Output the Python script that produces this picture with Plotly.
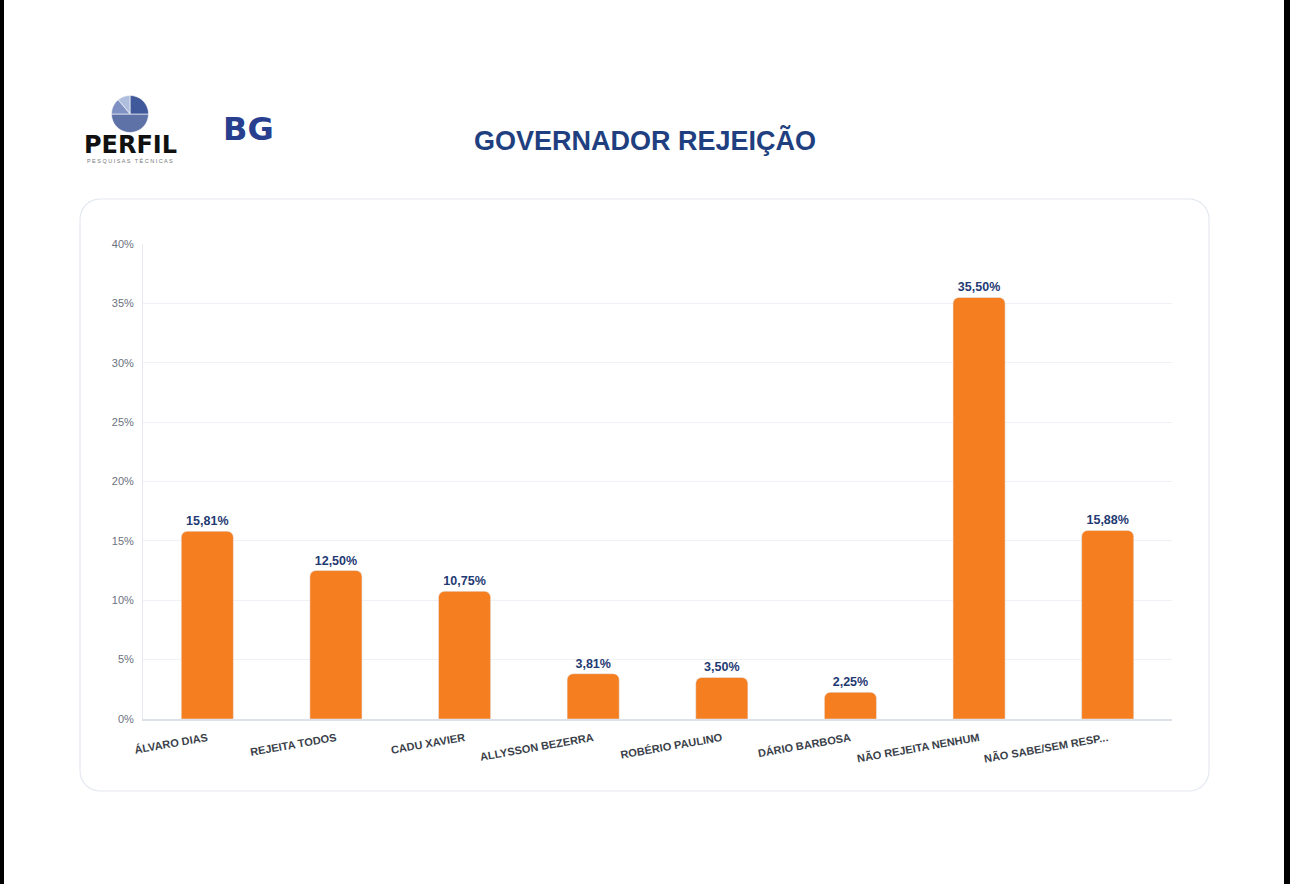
import math
import plotly.graph_objects as go

categories = ["ÁLVARO DIAS", "REJEITA TODOS", "CADU XAVIER", "ALLYSSON BEZERRA",
              "ROBÉRIO PAULINO", "DÁRIO BARBOSA", "NÃO REJEITA NENHUM", "NÃO SABE/SEM RESP..."]
values = [15.81, 12.50, 10.75, 3.81, 3.50, 2.25, 35.50, 15.88]
value_labels = ["15,81%", "12,50%", "10,75%", "3,81%", "3,50%", "2,25%", "35,50%", "15,88%"]
y_ticks = [0, 5, 10, 15, 20, 25, 30, 35, 40]
y_tick_labels = ["0%", "5%", "10%", "15%", "20%", "25%", "30%", "35%", "40%"]

W, H = 1290, 884
PL, PR, PT, PB = 143, 1172, 244, 719

def px(x):
    return (x - PL) / (PR - PL)

def py(y):
    return (PB - y) / (PB - PT)

fig = go.Figure()
fig.add_trace(go.Bar(
    x=categories, y=values,
    marker=dict(color="#F47E20", cornerradius=6),
    text=value_labels, textposition="outside", cliponaxis=False,
    textfont=dict(family="Liberation Sans, Arial", size=12.5, color="#1F3A73", weight="bold"),
    hoverinfo="skip",
))

shapes = []

def rounded_rect(x0, y0, x1, y1, r, n=8):
    pts = []
    corners = [(x1 - r, y0 + r, -90, 0), (x1 - r, y1 - r, 0, 90),
               (x0 + r, y1 - r, 90, 180), (x0 + r, y0 + r, 180, 270)]
    for cx, cy, a0, a1 in corners:
        for i in range(n + 1):
            a = math.radians(a0 + (a1 - a0) * i / n)
            pts.append((cx + r * math.cos(a), cy + r * math.sin(a)))
    return "M " + " L ".join(f"{px(a):.5f},{py(b):.5f}" for a, b in pts) + " Z"

# card
shapes.append(dict(type="path", xref="paper", yref="paper", path=rounded_rect(80, 199, 1209, 791, 20),
                   fillcolor="#FFFFFF", line=dict(color="#E4E8F0", width=1.2), layer="below"))
# subtle gradient: overlapping bands each extending to the bottom
nb = 20
for i in range(nb):
    y0 = 380 + i * (775 - 380) / nb
    shapes.append(dict(type="rect", xref="paper", yref="paper", x0=px(81), x1=px(1208),
                       y0=py(y0), y1=py(775), fillcolor="rgba(195,212,240,0.0035)",
                       line=dict(width=0), layer="below"))

# pie logo
cx, cy, R = 130, 114, 18.5

def wedge(a0, a1, color):
    pts = [(cx, cy)]
    n = 24
    for i in range(n + 1):
        a = math.radians(a0 + (a1 - a0) * i / n)
        pts.append((cx + R * math.cos(a), cy - R * math.sin(a)))
    path = "M " + " L ".join(f"{px(a):.5f},{py(b):.5f}" for a, b in pts) + " Z"
    shapes.append(dict(type="path", xref="paper", yref="paper", path=path,
                       fillcolor=color, line=dict(color="#FFFFFF", width=0.6)))

wedge(-180, 0, "#5E72A8")
wedge(0, 90, "#40599A")
wedge(90, 130, "#AFBEDD")
wedge(130, 180, "#7E91C2")

# black edges
shapes.append(dict(type="rect", xref="paper", yref="paper", x0=px(0), x1=px(4), y0=py(0), y1=py(H),
                   fillcolor="#000000", line=dict(width=0)))
shapes.append(dict(type="rect", xref="paper", yref="paper", x0=px(1284), x1=px(1290), y0=py(0), y1=py(H),
                   fillcolor="#000000", line=dict(width=0)))

annotations = [
    dict(text="<b>GOVERNADOR REJEIÇÃO</b>", x=px(645), y=py(140), xref="paper", yref="paper",
         showarrow=False, font=dict(family="Liberation Sans, Arial", size=27, color="#1F3F80"),
         xanchor="center", yanchor="middle"),
    dict(text="<b>PERFIL</b>", x=px(130), y=py(145), xref="paper", yref="paper", showarrow=False,
         font=dict(family="DejaVu Sans, Arial", size=24, color="#111111"),
         xanchor="center", yanchor="middle"),
    dict(text="P E S Q U I S A S   T É C N I C A S", x=px(130), y=py(161), xref="paper", yref="paper",
         showarrow=False, font=dict(family="Liberation Sans, Arial", size=5.5, color="#777777"),
         xanchor="center", yanchor="middle"),
    dict(text="<b>BG</b>", x=px(248), y=py(129), xref="paper", yref="paper", showarrow=False,
         font=dict(family="DejaVu Sans, Arial", size=32, color="#283F8F"),
         xanchor="center", yanchor="middle"),
]

fig.update_layout(
    width=W, height=H,
    margin=dict(l=PL, r=W - PR, t=PT, b=H - PB),
    paper_bgcolor="#FFFFFF", plot_bgcolor="rgba(0,0,0,0)",
    bargap=0.595, showlegend=False,
    shapes=shapes, annotations=annotations,
    xaxis=dict(tickangle=-10, tickfont=dict(family="Liberation Sans, Arial", size=11, color="#3A3F4A", weight="bold"),
               showline=True, linecolor="#DDE2EA", linewidth=1.5, ticks="", showgrid=False,
               ticklabelstandoff=7, fixedrange=True, automargin=False),
    yaxis=dict(range=[0, 40], tickvals=y_ticks, ticktext=y_tick_labels,
               tickfont=dict(family="Liberation Sans, Arial", size=11, color="#6B7180"),
               showgrid=True, gridcolor="#EEF1F6", gridwidth=1, zeroline=False,
               showline=True, linecolor="#E6E9EF", linewidth=1, ticks="", ticklabelstandoff=6,
               fixedrange=True, automargin=False),
)

fig.write_html("out.html")
